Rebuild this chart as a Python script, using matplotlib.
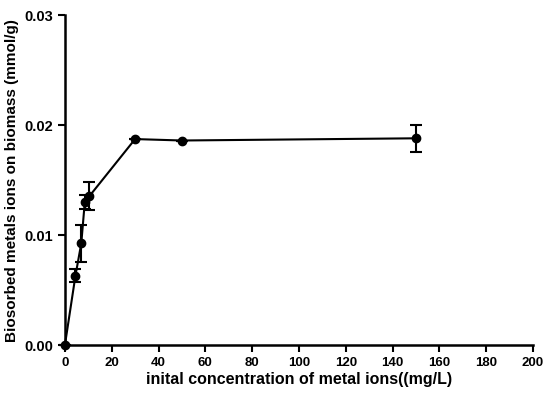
import numpy as np
from matplotlib import pyplot as plt

conc = [0, 4.5, 7, 8.5, 10.5, 30, 50, 150]
uptake = [0.0, 0.0063, 0.00925, 0.0130, 0.01355, 0.01873, 0.0186, 0.0188]
err = [0.0, 0.0006, 0.0017, 0.0006, 0.00125, 0.0, 0.0, 0.00123]
xticks = np.arange(0, 201, 20)
yticks = [0.00, 0.01, 0.02, 0.03]

plt.rcParams['font.family'] = ['Liberation Sans', 'DejaVu Sans']
plt.rcParams['font.weight'] = 'bold'

fig = plt.figure(figsize=(5.5, 3.98), dpi=100)
ax = fig.add_axes([0.118, 0.133, 0.851, 0.829])

lines = ax.errorbar(conc, uptake, yerr=err, color='black', marker='o', markersize=6,
                    linewidth=1.5, elinewidth=1.5, capsize=4, capthick=1.5)
for art in lines.get_children():
    art.set_clip_on(False)

ax.set_xlim(0, 200)
ax.set_ylim(0, 0.03)
ax.set_xticks(xticks)
ax.set_yticks(yticks)
ax.set_yticklabels(['%.2f' % t for t in yticks])
for s in ['top', 'right']:
    ax.spines[s].set_visible(False)
for s in ['left', 'bottom']:
    ax.spines[s].set_linewidth(1.8)
ax.tick_params(direction='out', length=5, width=1.5, labelsize=9.5)
ax.tick_params(axis='y', labelsize=10.5)
for lab in ax.get_xticklabels() + ax.get_yticklabels():
    lab.set_fontweight('bold')
ax.set_xlabel('inital concentration of metal ions((mg/L)', fontsize=11.5, fontweight='bold', labelpad=2)
ax.set_ylabel('Biosorbed metals ions on biomass (mmol/g)', fontsize=11, fontweight='bold', labelpad=4)
ax.patch.set_visible(False)
fig.savefig('out.png', dpi=100)
